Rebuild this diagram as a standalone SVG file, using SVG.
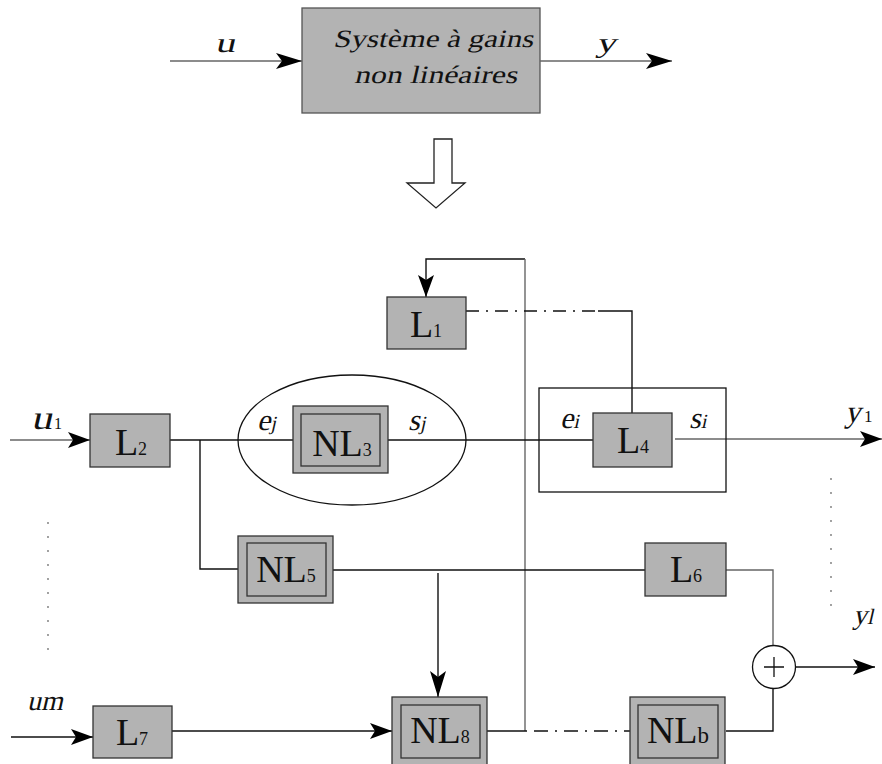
<svg xmlns="http://www.w3.org/2000/svg" width="882" height="764" viewBox="0 0 882 764">
<style>
.box{fill:#b3b3b3;stroke:#333;stroke-width:1.3}
.in{fill:none;stroke:#333;stroke-width:1.3}
.ln{fill:none;stroke:#111;stroke-width:1.4}
.gl{fill:none;stroke:#666;stroke-width:1.4}
.lb{font-family:"Liberation Serif","Times New Roman",serif;fill:#111}
.it{font-family:"Liberation Serif","Times New Roman",serif;fill:#111}
.dot{fill:#777}
</style>
<defs>
<marker id="big" markerUnits="userSpaceOnUse" markerWidth="28" markerHeight="18" refX="26" refY="8" orient="auto" viewBox="0 0 28 16"><path d="M0,0 L26,8 L0,16 L6,8 Z" fill="#000"/></marker>
<marker id="ah" markerUnits="userSpaceOnUse" markerWidth="24" markerHeight="18" refX="22" refY="8" orient="auto" viewBox="0 0 24 16"><path d="M0,0 L22,8 L0,16 L5,8 Z" fill="#000"/></marker>
</defs>

<g id="top-system">
<rect class="box" x="302" y="8" width="238" height="105" style="stroke:#555"/>
<g transform="translate(333,47) skewX(-13)"><text class="it" x="0" y="0" style="font-size:25px" textLength="200" lengthAdjust="spacingAndGlyphs">Système à gains</text></g>
<g transform="translate(354,83) skewX(-13)"><text class="it" x="0" y="0" style="font-size:25px" textLength="163" lengthAdjust="spacingAndGlyphs">non linéaires</text></g>
</g>
<g id="top-labels">
<g transform="translate(215,52) skewX(-13)"><text class="it" style="font-size:28px" textLength="20" lengthAdjust="spacingAndGlyphs">u</text></g>
<g transform="translate(596,52) skewX(-13)"><text class="it" style="font-size:28px" textLength="20" lengthAdjust="spacingAndGlyphs">y</text></g>
</g>
<g id="hollow-arrow">
<polygon points="434,139 452,139 452,183 465,183 436,208 407,183 434,183" fill="#fff" stroke="#222" stroke-width="1.3"/>
</g>

<g id="connectors">
<line class="gl" x1="170" y1="61" x2="302" y2="61" marker-end="url(#big)"/>
<line class="gl" x1="540" y1="61" x2="672" y2="61" marker-end="url(#big)"/>
<polyline class="ln" points="525,259 426,259 426,297" marker-end="url(#ah)"/>
<line class="gl" x1="525" y1="259" x2="525" y2="731"/>
<line class="ln" x1="466" y1="311" x2="598" y2="311" stroke-dasharray="13 7 2 7"/>
<polyline class="ln" points="598,311 632,311 632,413"/>
<line class="gl" x1="10" y1="440" x2="90" y2="440" marker-end="url(#ah)"/>
<line class="ln" x1="170" y1="440" x2="293" y2="440"/>
<line class="ln" x1="388" y1="440" x2="593" y2="440"/>
<line class="gl" x1="675" y1="439" x2="882" y2="439" marker-end="url(#ah)"/>
<polyline class="ln" points="200,440 200,569 238,569"/>
<line class="ln" x1="333" y1="570" x2="645" y2="570"/>
<line class="ln" x1="438" y1="573" x2="438" y2="697" marker-end="url(#big)"/>
<polyline class="gl" points="726,570 773,570 773,646"/>
<line class="ln" x1="796" y1="667" x2="875" y2="667" marker-end="url(#ah)"/>
<polyline class="ln" points="726,731 773,731 773,688"/>
<line class="ln" x1="11" y1="737" x2="93" y2="737" marker-end="url(#ah)"/>
<line class="ln" x1="172" y1="731" x2="392" y2="731" marker-end="url(#ah)"/>
<line class="ln" x1="487" y1="731" x2="525" y2="731"/>
<line class="ln" x1="525" y1="731" x2="630" y2="731" stroke-dasharray="2 7 14 7"/>
</g>

<g id="enclosures">
<ellipse cx="352" cy="440" rx="114" ry="65" class="in" style="stroke:#111"/>
<rect x="539" y="388" width="187" height="104" class="in" style="stroke:#111"/>
</g>

<g id="L1"><rect class="box" x="387" y="297" width="79" height="52"/><text class="lb" x="426" y="337" text-anchor="middle" style="font-size:38px">L<tspan style="font-size:18px">1</tspan></text></g>
<g id="L2"><rect class="box" x="90" y="414" width="80" height="53"/><text class="lb" x="131" y="455" text-anchor="middle" style="font-size:38px">L<tspan style="font-size:18px">2</tspan></text></g>
<g id="NL3"><rect class="box" x="293" y="406" width="95" height="67"/><rect class="in" x="301" y="414" width="79" height="52"/><text class="lb" x="342" y="456" text-anchor="middle" style="font-size:38px">NL<tspan style="font-size:18px">3</tspan></text></g>
<g id="L4"><rect class="box" x="593" y="413" width="79" height="54"/><text class="lb" x="633" y="453" text-anchor="middle" style="font-size:38px">L<tspan style="font-size:18px">4</tspan></text></g>
<g id="NL5"><rect class="box" x="238" y="536" width="95" height="67"/><rect class="in" x="247" y="543" width="79" height="53"/><text class="lb" x="286" y="582" text-anchor="middle" style="font-size:38px">NL<tspan style="font-size:18px">5</tspan></text></g>
<g id="L6"><rect class="box" x="645" y="543" width="81" height="53"/><text class="lb" x="686" y="582" text-anchor="middle" style="font-size:38px">L<tspan style="font-size:18px">6</tspan></text></g>
<g id="L7"><rect class="box" x="93" y="706" width="79" height="52"/><text class="lb" x="132" y="745" text-anchor="middle" style="font-size:38px">L<tspan style="font-size:18px">7</tspan></text></g>
<g id="NL8"><rect class="box" x="392" y="697" width="95" height="68"/><rect class="in" x="401" y="705" width="79" height="53"/><text class="lb" x="440" y="743" text-anchor="middle" style="font-size:38px">NL<tspan style="font-size:18px">8</tspan></text></g>
<g id="NLb"><rect class="box" x="630" y="697" width="95" height="68"/><rect class="in" x="638" y="705" width="80" height="53"/><text class="lb" x="678" y="743" text-anchor="middle" style="font-size:38px">NL<tspan style="font-size:23px">b</tspan></text></g>
<g id="sum"><circle cx="774" cy="667" r="21.5" fill="#fff" stroke="#111" stroke-width="1.3"/><path d="M764,667 H784 M774,657 V677" stroke="#111" stroke-width="1.3"/></g>

<g id="labels">
<g transform="translate(31,429) skewX(-13)"><text class="it" style="font-size:34px" textLength="21" lengthAdjust="spacingAndGlyphs">u</text></g><text class="lb" x="54" y="429" style="font-size:16px">1</text>
<g transform="translate(257,430) skewX(-13)"><text class="it" style="font-size:30px">e<tspan style="font-size:20px">j</tspan></text></g>
<g transform="translate(408,430) skewX(-13)"><text class="it" style="font-size:30px">s<tspan style="font-size:20px">j</tspan></text></g>
<g transform="translate(560,428) skewX(-13)"><text class="it" style="font-size:30px">e<tspan style="font-size:20px">i</tspan></text></g>
<g transform="translate(689,428) skewX(-13)"><text class="it" style="font-size:30px">s<tspan style="font-size:20px">i</tspan></text></g>
<g transform="translate(845,422) skewX(-13)"><text class="it" style="font-size:31px">y</text></g><text class="lb" x="864" y="422" style="font-size:17px">1</text>
<g transform="translate(853,624) skewX(-13)"><text class="it" style="font-size:28px">y<tspan style="font-size:22px">l</tspan></text></g>
<g transform="translate(27,710) skewX(-13)"><text class="it" style="font-size:28px" textLength="36" lengthAdjust="spacingAndGlyphs">um</text></g>
</g>

<g id="dots">
<circle class="dot" cx="48" cy="523" r="0.9"/><circle class="dot" cx="48" cy="537" r="0.9"/><circle class="dot" cx="48" cy="551" r="0.9"/><circle class="dot" cx="48" cy="565" r="0.9"/><circle class="dot" cx="48" cy="579" r="0.9"/><circle class="dot" cx="48" cy="593" r="0.9"/><circle class="dot" cx="48" cy="607" r="0.9"/><circle class="dot" cx="48" cy="621" r="0.9"/><circle class="dot" cx="48" cy="635" r="0.9"/><circle class="dot" cx="48" cy="649" r="0.9"/>
<circle class="dot" cx="831" cy="479" r="0.9"/><circle class="dot" cx="831" cy="493" r="0.9"/><circle class="dot" cx="831" cy="507" r="0.9"/><circle class="dot" cx="831" cy="521" r="0.9"/><circle class="dot" cx="831" cy="535" r="0.9"/><circle class="dot" cx="831" cy="549" r="0.9"/><circle class="dot" cx="831" cy="563" r="0.9"/><circle class="dot" cx="831" cy="577" r="0.9"/><circle class="dot" cx="831" cy="591" r="0.9"/><circle class="dot" cx="831" cy="605" r="0.9"/>
</g>
</svg>
